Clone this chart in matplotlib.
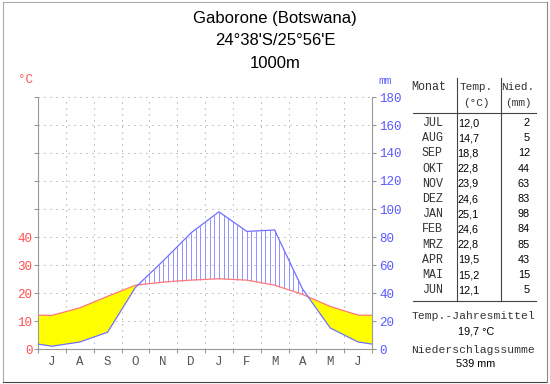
import numpy as np
import matplotlib
matplotlib.use('Agg')
import matplotlib.pyplot as plt
from matplotlib.lines import Line2D

# climate data Gaborone, July..June
month_letters = ['J', 'A', 'S', 'O', 'N', 'D', 'J', 'F', 'M', 'A', 'M', 'J']
month_names = ['JUL', 'AUG', 'SEP', 'OKT', 'NOV', 'DEZ',
               'JAN', 'FEB', 'MRZ', 'APR', 'MAI', 'JUN']
temp = [12.0, 14.7, 18.8, 22.8, 23.9, 24.6, 25.1, 24.6, 22.8, 19.5, 15.2, 12.1]
prec = [2, 5, 12, 44, 63, 83, 98, 84, 85, 43, 15, 5]
left_ticks = [0, 10, 20, 30, 40]
right_ticks = [0, 20, 40, 60, 80, 100, 120, 140, 160, 180]
title_lines = ['Gaborone (Botswana)', "24°38'S/25°56'E", '1000m']

W, H = 550, 384
MONO = 'Liberation Mono'
SANS = 'Liberation Sans'
RED = '#ff5050'
BLUE = '#5a5aff'
GRAY = '#999999'

fig = plt.figure(figsize=(W / 100, H / 100), dpi=100)
fig.patch.set_facecolor('white')


def ftext(x, y, s, **kw):
    kw.setdefault('va', 'center')
    fig.text(x / W, 1 - y / H, s, **kw)


def fline(x0, y0, x1, y1, **kw):
    fig.add_artist(Line2D([x0 / W, x1 / W], [1 - y0 / H, 1 - y1 / H],
                          transform=fig.transFigure, **kw))


ax = fig.add_axes([38 / W, 35 / H, 334 / W, 252 / H])
ax.set_xlim(0, 12)
ax.set_ylim(0, 180)

# curves: month midpoints, padded at both edges with the Jun/Jul mean
t = np.array(temp)
p = np.array(prec, dtype=float)
xs = np.concatenate([[0], np.arange(12) + 0.5, [12]])
t2 = np.concatenate([[(t[0] + t[-1]) / 2], t, [(t[0] + t[-1]) / 2]]) * 2
pp = np.concatenate([[(p[0] + p[-1]) / 2], p, [(p[0] + p[-1]) / 2]])

# grid
for yv in right_ticks[1:]:
    ax.axhline(yv, color='#909090', lw=0.72, ls=(0, (1, 5)), zorder=1)
for xv in range(1, 12):
    ax.axvline(xv, color='#909090', lw=0.72, ls=(0, (1, 5)), zorder=1)

# dry season (yellow)
xf = np.linspace(0, 12, 1201)
tf = np.interp(xf, xs, t2)
pf = np.interp(xf, xs, pp)
ax.fill_between(xf, pf, tf, where=pf <= tf, color='#ffff00', lw=0, zorder=2)

# humid season (vertical hatch)
xh = np.arange(0, 12, 1 / 6)
th = np.interp(xh, xs, t2)
ph = np.interp(xh, xs, pp)
m = ph > th
ax.vlines(xh[m], th[m], ph[m], colors='#9494ff', lw=0.72, zorder=3)

ax.plot(xs, t2, color='#ff7878', lw=0.9, zorder=4)
ax.plot(xs, pp, color='#7070ff', lw=0.9, zorder=4)

ax.spines['top'].set_visible(False)
for s in ['left', 'right', 'bottom']:
    ax.spines[s].set_color(GRAY)
    ax.spines[s].set_linewidth(0.8)

ax.set_xticks(range(13))
ax.set_xticklabels([])
ax.set_xticks(np.arange(12) + 0.5, minor=True)
ax.set_xticklabels(month_letters, minor=True, fontfamily=MONO, fontsize=9,
                   color='#555555')
ax.tick_params(axis='x', which='major', length=3, width=0.8, color=GRAY)
ax.tick_params(axis='x', which='minor', length=0, pad=5)

ax.set_yticks(right_ticks)
ax.set_yticklabels([str(y // 2) if y // 2 in left_ticks else ''
                    for y in right_ticks])
ax.tick_params(axis='y', length=3, width=0.8, color=GRAY, pad=1,
               labelcolor=RED, labelsize=9)
for lb in ax.get_yticklabels():
    lb.set_fontfamily(MONO)

ax2 = ax.twinx()
ax2.set_ylim(0, 180)
ax2.set_yticks(right_ticks)
ax2.set_yticklabels([str(v) for v in right_ticks])
ax2.tick_params(axis='y', length=3, width=0.8, color=GRAY, pad=2,
                labelcolor=BLUE, labelsize=9)
for lb in ax2.get_yticklabels():
    lb.set_fontfamily(MONO)
for s in ax2.spines.values():
    s.set_visible(False)

ftext(25, 80, '°C', ha='center', color=RED, fontfamily=MONO, fontsize=9)
ftext(385, 81, 'mm', ha='center', color=BLUE, fontfamily=MONO, fontsize=8)

# title
for i, line in enumerate(title_lines):
    ftext(275, 18 + i * 22.5, line, ha='center', fontfamily=SANS, fontsize=12)

# table
TC = '#333333'
MS = 8.4
HS = 8.0
NS = 7.8
ftext(411, 87, 'Monat', ha='left', fontfamily=MONO, fontsize=MS, color=TC)
ftext(476, 87, 'Temp.', ha='center', fontfamily=MONO, fontsize=HS, color=TC)
ftext(476, 103, '(°C)', ha='center', fontfamily=MONO, fontsize=HS, color=TC)
ftext(518, 87, 'Nied.', ha='center', fontfamily=MONO, fontsize=HS, color=TC)
ftext(518, 103, '(mm)', ha='center', fontfamily=MONO, fontsize=HS, color=TC)
fline(413, 113, 536, 113, color='#444444', lw=0.8)
fline(413, 301, 536, 301, color='#444444', lw=0.8)
fline(456.5, 78, 456.5, 301, color='#444444', lw=0.8)
fline(500.5, 78, 500.5, 301, color='#444444', lw=0.8)
for i, (mn, tv, pv) in enumerate(zip(month_names, temp, prec)):
    y = 123 + i * 15.2
    ftext(443, y, mn, ha='right', fontfamily=MONO, fontsize=MS, color=TC)
    ftext(479, y, f'{tv:.1f}'.replace('.', ','), ha='right',
          fontfamily=SANS, fontsize=NS)
    ftext(530, y, str(pv), ha='right', fontfamily=SANS, fontsize=NS)

ftext(473, 316, 'Temp.-Jahresmittel', ha='center', fontfamily=MONO,
      fontsize=8.2, color=TC)
ftext(476, 331, f'{np.mean(temp):.1f} °C'.replace('.', ','), ha='center',
      fontfamily=SANS, fontsize=NS)
ftext(473, 350, 'Niederschlagssumme', ha='center', fontfamily=MONO,
      fontsize=8.2, color=TC)
ftext(476, 364, f'{int(sum(prec))} mm', ha='center', fontfamily=SANS,
      fontsize=NS)

# frame
fline(2.5, 1.5, 546.5, 1.5, color='#aaaaaa', lw=0.8)
fline(2.5, 1.5, 2.5, 381.5, color='#aaaaaa', lw=0.8)
fline(2.5, 381.5, 546.5, 381.5, color='#444444', lw=0.8)
fline(546.5, 1.5, 546.5, 381.5, color='#888888', lw=0.8)

fig.savefig('out.png', dpi=100)
